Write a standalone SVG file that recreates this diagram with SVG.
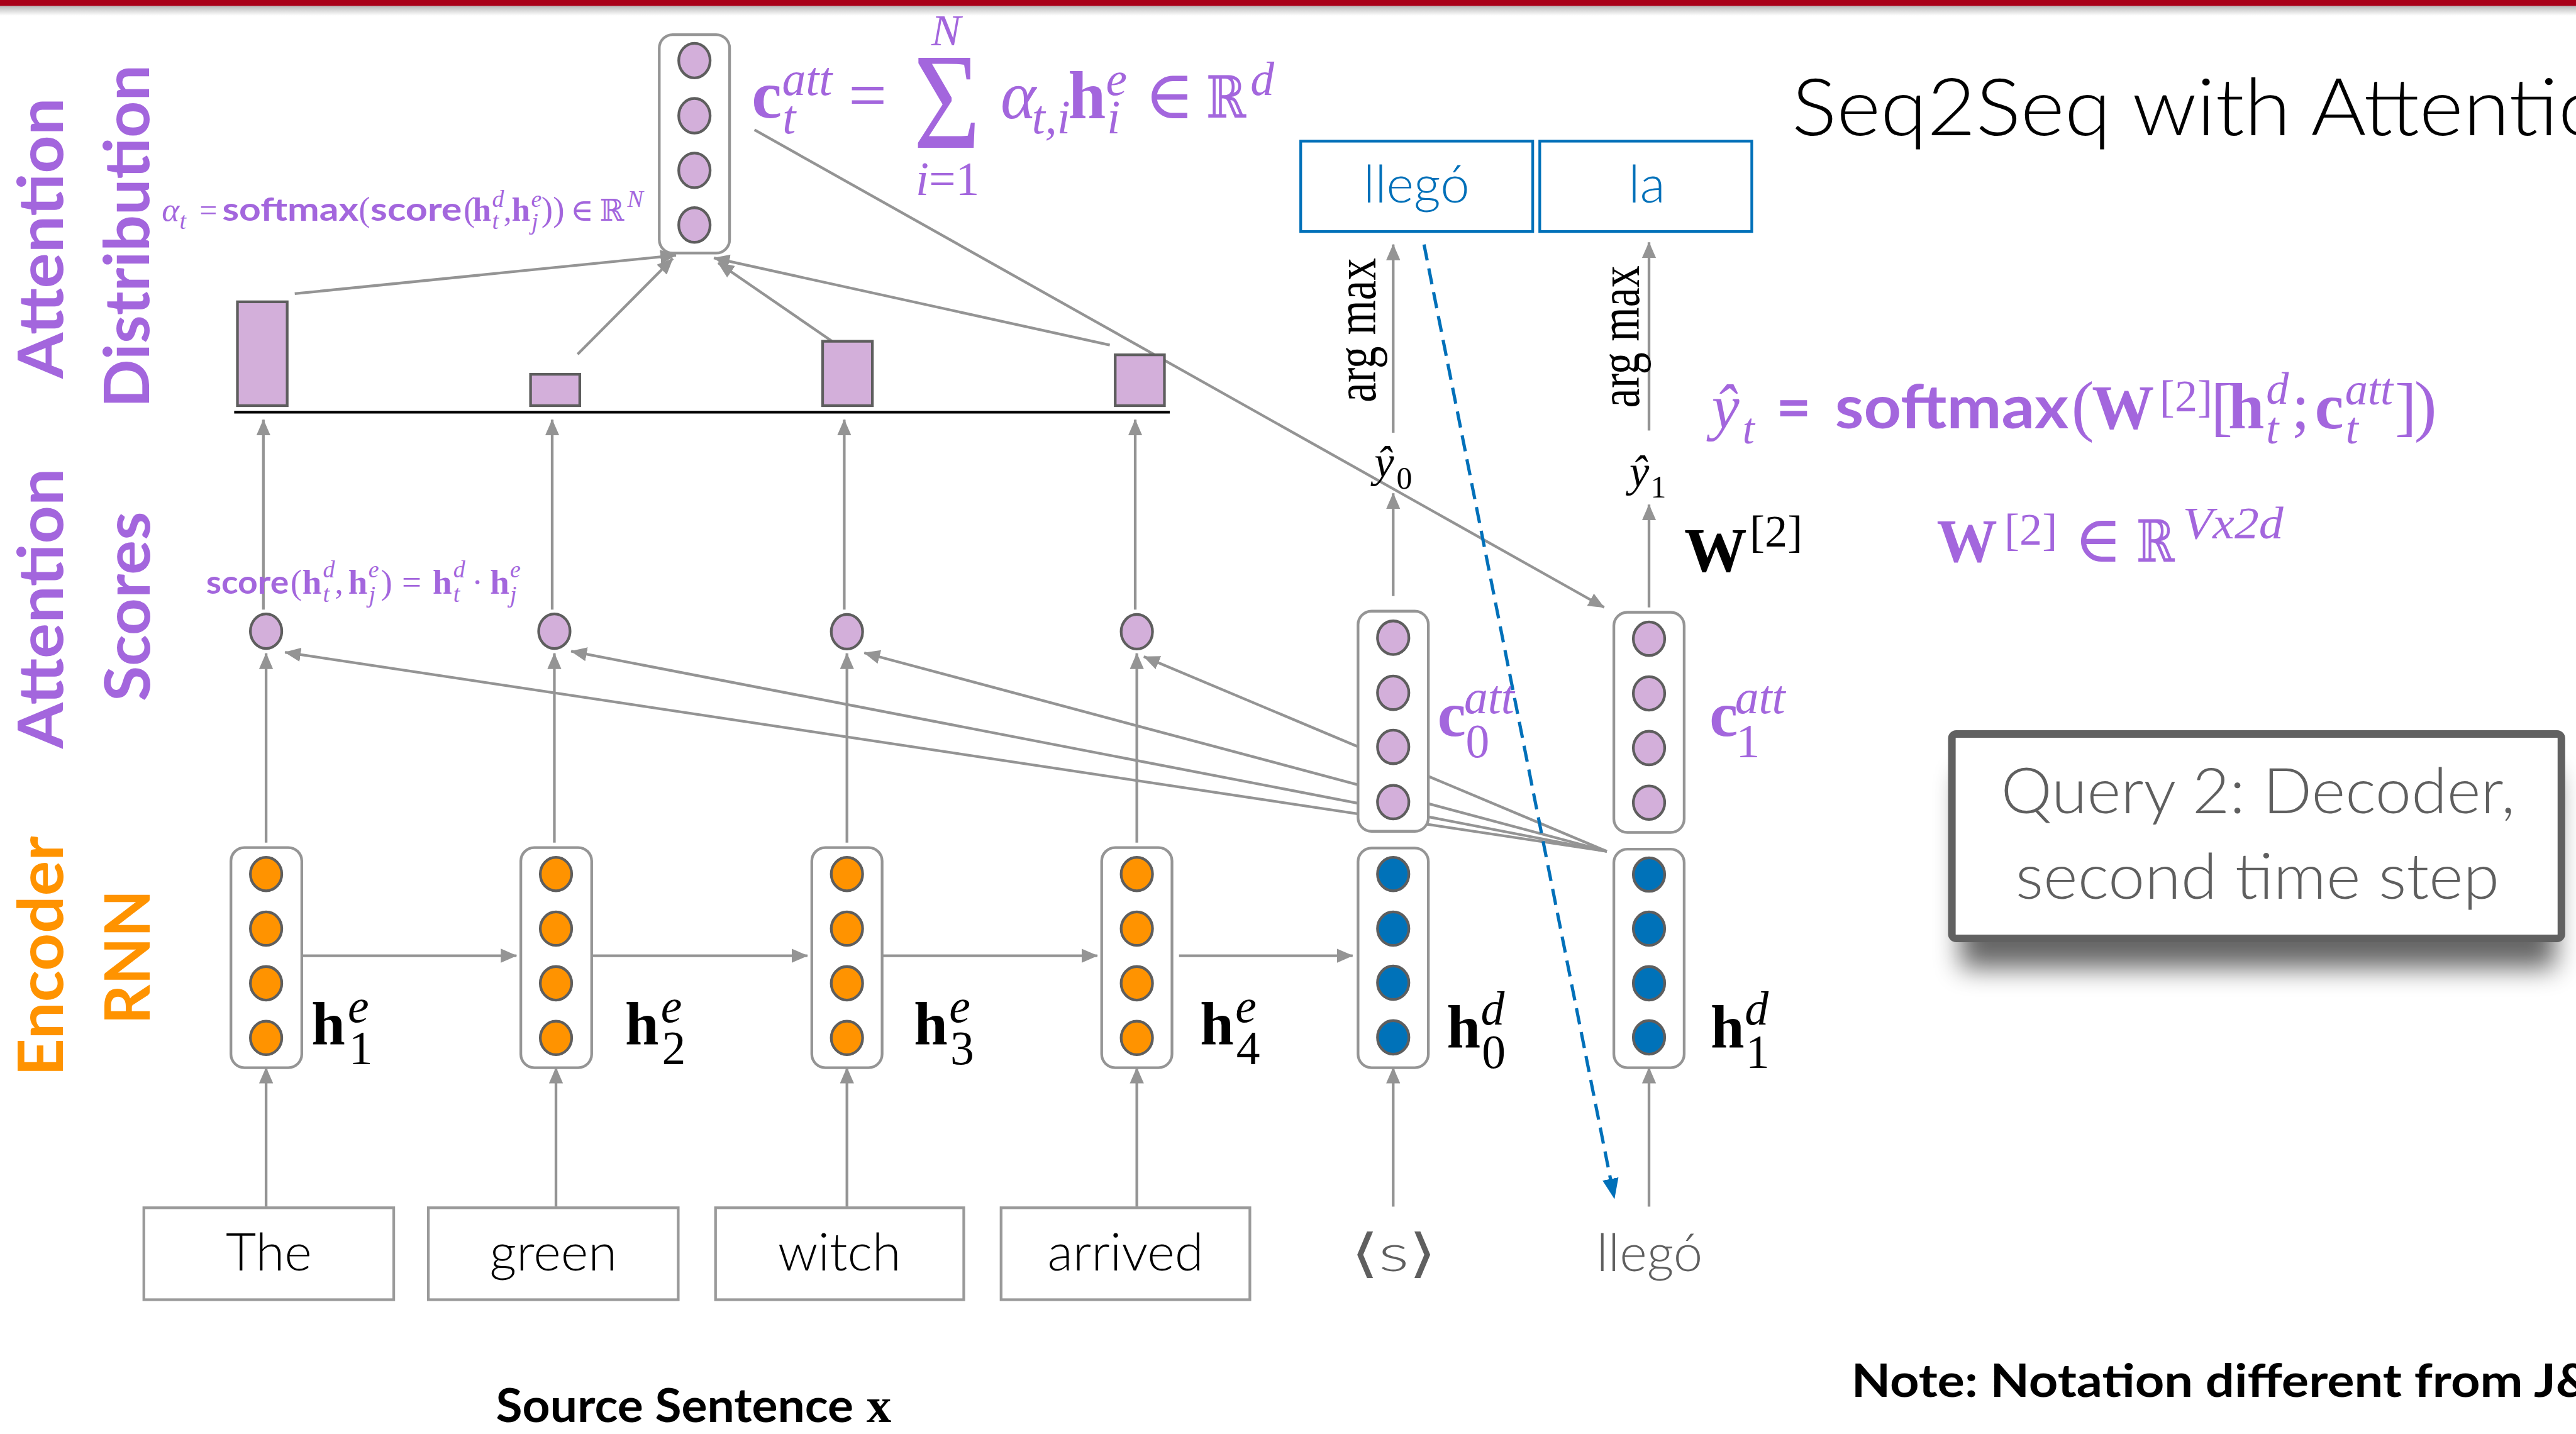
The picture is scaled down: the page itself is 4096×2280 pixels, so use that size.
<svg xmlns="http://www.w3.org/2000/svg" width="4096" height="2280" viewBox="0 0 4096 2280">
<defs>
<style>
.sans{font-family:Lato,"Noto Sans","DejaVu Sans",sans-serif}
.serif{font-family:"Liberation Serif","DejaVu Serif",serif}
.pur{fill:#A366DD}
.side{font-family:Lato,"Noto Sans","DejaVu Sans",sans-serif;font-weight:700;font-size:116px}
.vec{fill:#fff;stroke:#959595;stroke-width:5}
.wbox{fill:#fff;stroke:#9A9A9A;stroke-width:5}
.obox{fill:#fff;stroke:#0070B9;stroke-width:5}
.u-enc{fill:#FF9300;stroke:#5E5E5E;stroke-width:5}
.u-dec{fill:#0072B9;stroke:#5E5E5E;stroke-width:5}
.u-att{fill:#D3AFDA;stroke:#5E5E5E;stroke-width:5}
.ln{fill:none;stroke:#949494;stroke-width:5}
.ar{marker-end:url(#ah)}
.word{font-family:Lato,"Noto Sans","DejaVu Sans",sans-serif;font-weight:300;font-size:97px;text-anchor:middle}
.it{font-style:italic}
.b{font-weight:700}
</style>
<marker id="ah" markerUnits="userSpaceOnUse" markerWidth="30" markerHeight="26" refX="29" refY="13" orient="auto"><path d="M0,0L30,13L0,26z" fill="#949494"/></marker>
<marker id="ahb" markerUnits="userSpaceOnUse" markerWidth="38" markerHeight="30" refX="37" refY="15" orient="auto"><path d="M0,0L38,15L0,30z" fill="#0070B9"/></marker>
<filter id="soft" x="-20%" y="-30%" width="140%" height="180%"><feGaussianBlur stdDeviation="24"/></filter>
<linearGradient id="shade" x1="0" y1="0" x2="0" y2="1"><stop offset="0" stop-color="#000" stop-opacity="0.28"/><stop offset="1" stop-color="#000" stop-opacity="0"/></linearGradient>
</defs>
<rect width="4096" height="2280" fill="#fff"/>
<g transform="scale(0.859962)">

<!-- header rule -->
<g id="header">
<rect x="0" y="0" width="4763" height="11" fill="#A80018"/>
<rect x="0" y="11" width="4763" height="18" fill="url(#shade)"/>
</g>

<!-- row captions -->
<g id="row-labels">
<text class="side pur" transform="translate(116,700) rotate(-90)" textLength="519" lengthAdjust="spacingAndGlyphs">Attention</text>
<text class="side pur" transform="translate(276,754) rotate(-90)" textLength="634" lengthAdjust="spacingAndGlyphs">Distribution</text>
<text class="side pur" transform="translate(116,1384) rotate(-90)" textLength="518" lengthAdjust="spacingAndGlyphs">Attention</text>
<text class="side pur" transform="translate(277,1297) rotate(-90)" textLength="351" lengthAdjust="spacingAndGlyphs">Scores</text>
<text class="side" fill="#FF9300" transform="translate(116,1990) rotate(-90)" textLength="444" lengthAdjust="spacingAndGlyphs">Encoder</text>
<text class="side" fill="#FF9300" transform="translate(277,1894) rotate(-90)" textLength="249" lengthAdjust="spacingAndGlyphs">RNN</text>
</g>

<!-- connectors -->
<g id="connectors">
<!-- words to hidden states -->
<line class="ln ar" x1="492" y1="2231" x2="492" y2="1974"/>
<line class="ln ar" x1="1028" y1="2231" x2="1028" y2="1974"/>
<line class="ln ar" x1="1566" y1="2231" x2="1566" y2="1974"/>
<line class="ln ar" x1="2102" y1="2231" x2="2102" y2="1974"/>
<line class="ln ar" x1="2576" y1="2231" x2="2576" y2="1974"/>
<line class="ln ar" x1="3049" y1="2231" x2="3049" y2="1974"/>
<!-- recurrence -->
<line class="ln ar" x1="558" y1="1767" x2="955" y2="1767"/>
<line class="ln ar" x1="1094" y1="1767" x2="1493" y2="1767"/>
<line class="ln ar" x1="1631" y1="1767" x2="2029" y2="1767"/>
<line class="ln ar" x1="2180" y1="1767" x2="2501" y2="1767"/>
<!-- encoder states to scores -->
<line class="ln ar" x1="492" y1="1558" x2="492" y2="1208"/>
<line class="ln ar" x1="1025" y1="1558" x2="1025" y2="1208"/>
<line class="ln ar" x1="1566" y1="1558" x2="1566" y2="1208"/>
<line class="ln ar" x1="2102" y1="1558" x2="2102" y2="1208"/>
<!-- scores to distribution -->
<line class="ln ar" x1="487" y1="1127" x2="487" y2="776"/>
<line class="ln ar" x1="1021" y1="1127" x2="1021" y2="776"/>
<line class="ln ar" x1="1561" y1="1127" x2="1561" y2="776"/>
<line class="ln ar" x1="2099" y1="1127" x2="2099" y2="776"/>
<!-- query h1 to each score -->
<line class="ln ar" x1="2971" y1="1574" x2="527" y2="1206"/>
<line class="ln ar" x1="2971" y1="1574" x2="1056" y2="1204"/>
<line class="ln ar" x1="2971" y1="1574" x2="1598" y2="1207"/>
<line class="ln ar" x1="2971" y1="1574" x2="2115" y2="1214"/>
<!-- weights to context vector -->
<line class="ln ar" x1="545" y1="543" x2="1250" y2="472"/>
<line class="ln ar" x1="1068" y1="655" x2="1244" y2="478"/>
<line class="ln ar" x1="1540" y1="632" x2="1328" y2="486"/>
<line class="ln ar" x1="2052" y1="638" x2="1320" y2="477"/>
<!-- context vector to c1 -->
<line class="ln ar" x1="1395" y1="240" x2="2966" y2="1123"/>
<!-- outputs -->
<line class="ln ar" x1="2576" y1="1102" x2="2576" y2="912"/>
<line class="ln ar" x1="3049" y1="1123" x2="3049" y2="933"/>
<line class="ln ar" x1="2576" y1="800" x2="2576" y2="452"/>
<line class="ln ar" x1="3049" y1="796" x2="3049" y2="448"/>
<!-- feed previous output -->
<line x1="2633" y1="452" x2="2985" y2="2216" fill="none" stroke="#0070B9" stroke-width="6" stroke-dasharray="30 15" marker-end="url(#ahb)"/>
</g>

<!-- distribution baseline and bars -->
<g id="distribution">
<line x1="433" y1="762" x2="2163" y2="762" stroke="#000" stroke-width="5"/>
<rect id="bar-1" class="u-att" x="439" y="558" width="92" height="192"/>
<rect id="bar-2" class="u-att" x="981" y="692" width="91" height="58"/>
<rect id="bar-3" class="u-att" x="1521" y="631" width="92" height="119"/>
<rect id="bar-4" class="u-att" x="2062" y="656" width="91" height="94"/>
</g>

<!-- context vector c_t -->
<g id="ctx-t">
<rect class="vec" x="1219" y="64" width="130" height="404" rx="25"/>
<ellipse class="u-att" cx="1284" cy="112" rx="29" ry="32"/>
<ellipse class="u-att" cx="1284" cy="214" rx="29" ry="32"/>
<ellipse class="u-att" cx="1284" cy="315" rx="29" ry="32"/>
<ellipse class="u-att" cx="1284" cy="416" rx="29" ry="32"/>
</g>

<!-- score nodes -->
<g id="score-1"><ellipse class="u-att" cx="492" cy="1167" rx="29" ry="32"/></g>
<g id="score-2"><ellipse class="u-att" cx="1025" cy="1167" rx="29" ry="32"/></g>
<g id="score-3"><ellipse class="u-att" cx="1566" cy="1168" rx="29" ry="32"/></g>
<g id="score-4"><ellipse class="u-att" cx="2102" cy="1168" rx="29" ry="32"/></g>

<!-- encoder states -->
<g id="enc-1">
<rect class="vec" x="427" y="1567" width="131" height="407" rx="25"/>
<ellipse class="u-enc" cx="492" cy="1616" rx="29" ry="31"/><ellipse class="u-enc" cx="492" cy="1717" rx="29" ry="31"/><ellipse class="u-enc" cx="492" cy="1818" rx="29" ry="31"/><ellipse class="u-enc" cx="492" cy="1919" rx="29" ry="31"/>
</g>
<g id="enc-2">
<rect class="vec" x="963" y="1567" width="131" height="407" rx="25"/>
<ellipse class="u-enc" cx="1028" cy="1616" rx="29" ry="31"/><ellipse class="u-enc" cx="1028" cy="1717" rx="29" ry="31"/><ellipse class="u-enc" cx="1028" cy="1818" rx="29" ry="31"/><ellipse class="u-enc" cx="1028" cy="1919" rx="29" ry="31"/>
</g>
<g id="enc-3">
<rect class="vec" x="1501" y="1567" width="130" height="407" rx="25"/>
<ellipse class="u-enc" cx="1566" cy="1616" rx="29" ry="31"/><ellipse class="u-enc" cx="1566" cy="1717" rx="29" ry="31"/><ellipse class="u-enc" cx="1566" cy="1818" rx="29" ry="31"/><ellipse class="u-enc" cx="1566" cy="1919" rx="29" ry="31"/>
</g>
<g id="enc-4">
<rect class="vec" x="2037" y="1567" width="130" height="407" rx="25"/>
<ellipse class="u-enc" cx="2102" cy="1616" rx="29" ry="31"/><ellipse class="u-enc" cx="2102" cy="1717" rx="29" ry="31"/><ellipse class="u-enc" cx="2102" cy="1818" rx="29" ry="31"/><ellipse class="u-enc" cx="2102" cy="1919" rx="29" ry="31"/>
</g>

<!-- decoder states -->
<g id="dec-0">
<rect class="vec" x="2511" y="1568" width="130" height="406" rx="25"/>
<ellipse class="u-dec" cx="2576" cy="1616" rx="29" ry="31"/><ellipse class="u-dec" cx="2576" cy="1717" rx="29" ry="31"/><ellipse class="u-dec" cx="2576" cy="1817" rx="29" ry="31"/><ellipse class="u-dec" cx="2576" cy="1918" rx="29" ry="31"/>
</g>
<g id="dec-1">
<rect class="vec" x="2984" y="1570" width="130" height="404" rx="25"/>
<ellipse class="u-dec" cx="3049" cy="1617" rx="29" ry="31"/><ellipse class="u-dec" cx="3049" cy="1717" rx="29" ry="31"/><ellipse class="u-dec" cx="3049" cy="1818" rx="29" ry="31"/><ellipse class="u-dec" cx="3049" cy="1918" rx="29" ry="31"/>
</g>

<!-- attention context per step -->
<g id="ctx-0">
<rect class="vec" x="2511" y="1130" width="130" height="407" rx="25"/>
<ellipse class="u-att" cx="2576" cy="1179" rx="29" ry="31"/><ellipse class="u-att" cx="2576" cy="1281" rx="29" ry="31"/><ellipse class="u-att" cx="2576" cy="1381" rx="29" ry="31"/><ellipse class="u-att" cx="2576" cy="1483" rx="29" ry="31"/>
</g>
<g id="ctx-1">
<rect class="vec" x="2984" y="1132" width="130" height="407" rx="25"/>
<ellipse class="u-att" cx="3049" cy="1181" rx="29" ry="31"/><ellipse class="u-att" cx="3049" cy="1282" rx="29" ry="31"/><ellipse class="u-att" cx="3049" cy="1383" rx="29" ry="31"/><ellipse class="u-att" cx="3049" cy="1484" rx="29" ry="31"/>
</g>

<!-- state labels -->
<g id="state-labels" class="serif" fill="#000">
<text font-size="112"><tspan x="576" y="1931" class="b">h</tspan><tspan x="643" y="1890" font-size="88" class="it">e</tspan><tspan x="645" y="1967" font-size="88">1</tspan></text>
<text font-size="112"><tspan x="1156" y="1931" class="b">h</tspan><tspan x="1222" y="1890" font-size="88" class="it">e</tspan><tspan x="1224" y="1967" font-size="88">2</tspan></text>
<text font-size="112"><tspan x="1690" y="1931" class="b">h</tspan><tspan x="1755" y="1890" font-size="88" class="it">e</tspan><tspan x="1757" y="1967" font-size="88">3</tspan></text>
<text font-size="112"><tspan x="2219" y="1931" class="b">h</tspan><tspan x="2284" y="1890" font-size="88" class="it">e</tspan><tspan x="2286" y="1967" font-size="88">4</tspan></text>
<text font-size="112"><tspan x="2675" y="1937" class="b">h</tspan><tspan x="2738" y="1894" font-size="88" class="it">d</tspan><tspan x="2740" y="1975" font-size="88">0</tspan></text>
<text font-size="112"><tspan x="3163" y="1937" class="b">h</tspan><tspan x="3226" y="1894" font-size="88" class="it">d</tspan><tspan x="3228" y="1975" font-size="88">1</tspan></text>
<text class="pur" font-size="118"><tspan x="2658" y="1361" class="b">c</tspan><tspan x="2707" y="1319" font-size="88" class="it">att</tspan><tspan x="2710" y="1400" font-size="88">0</tspan></text>
<text class="pur" font-size="118"><tspan x="3161" y="1361" class="b">c</tspan><tspan x="3208" y="1319" font-size="88" class="it">att</tspan><tspan x="3210" y="1400" font-size="88">1</tspan></text>
<text font-size="82"><tspan x="2541" y="882" class="it">ŷ</tspan><tspan x="2582" y="903" font-size="58">0</tspan></text>
<text font-size="82"><tspan x="3013" y="899" class="it">ŷ</tspan><tspan x="3052" y="920" font-size="58">1</tspan></text>
<text font-size="116"><tspan x="3114" y="1056" class="b">W</tspan><tspan x="3235" y="1010" font-size="84">[2]</tspan></text>
<text font-size="105" transform="translate(2543,744) rotate(-90)" textLength="267" lengthAdjust="spacingAndGlyphs">arg max</text>
<text font-size="105" transform="translate(3030,754) rotate(-90)" textLength="263" lengthAdjust="spacingAndGlyphs">arg max</text>
</g>

<!-- formula: context vector -->
<g id="eq-context" class="serif pur">
<text font-size="125"><tspan x="1390" y="217" class="b">c</tspan><tspan x="1446" y="176" font-size="88" class="it">att</tspan><tspan x="1447" y="247" font-size="88" class="it">t</tspan><tspan x="1569" y="217">=</tspan></text>
<text x="1689" y="273" font-size="255" textLength="124" lengthAdjust="spacingAndGlyphs">Σ</text>
<text x="1722" y="84" font-size="82" class="it">N</text>
<text font-size="88"><tspan x="1693" y="360" class="it">i</tspan><tspan>=1</tspan></text>
<text font-size="125"><tspan x="1850" y="219" class="it">α</tspan><tspan x="1908" y="247" font-size="88" class="it">t,i</tspan><tspan x="1975" y="219" class="b">h</tspan><tspan x="2045" y="176" font-size="88" class="it">e</tspan><tspan x="2047" y="247" font-size="88" class="it">i</tspan><tspan x="2116" y="219">∈</tspan></text>
<text x="2230" y="217" font-size="108" textLength="74" lengthAdjust="spacingAndGlyphs">ℝ</text>
<text x="2312" y="176" font-size="88" class="it">d</text>
</g>

<!-- formula: attention weights -->
<g id="eq-alpha" class="pur">
<text class="serif" font-size="62"><tspan x="299" y="408" class="it">α</tspan><tspan x="332" y="423" font-size="44" class="it">t</tspan><tspan x="369" y="408" font-size="58">=</tspan></text>
<text class="sans b" x="411" y="408" font-size="60" textLength="252" lengthAdjust="spacingAndGlyphs">softmax</text>
<text class="serif" x="663" y="408" font-size="64">(</text>
<text class="sans b" x="685" y="408" font-size="60" textLength="169" lengthAdjust="spacingAndGlyphs">score</text>
<text class="serif" font-size="62"><tspan x="857" y="408" font-size="64">(</tspan><tspan x="874" y="408" class="b">h</tspan><tspan x="910" y="383" font-size="44" class="it">d</tspan><tspan x="910" y="423" font-size="44" class="it">t</tspan><tspan x="931" y="408">,</tspan><tspan x="946" y="408" class="b">h</tspan><tspan x="982" y="383" font-size="44" class="it">e</tspan><tspan x="983" y="425" font-size="44" class="it">j</tspan><tspan x="1001" y="408" font-size="64">))</tspan><tspan x="1055" y="408" font-size="58">∈</tspan></text>
<text class="serif" x="1109" y="408" font-size="56" textLength="45" lengthAdjust="spacingAndGlyphs">ℝ</text>
<text class="serif it" x="1160" y="382" font-size="44">N</text>
</g>

<!-- formula: dot-product score -->
<g id="eq-score" class="pur">
<text class="sans b" x="381" y="1098" font-size="60" textLength="153" lengthAdjust="spacingAndGlyphs">score</text>
<text class="serif" font-size="64"><tspan x="537" y="1098">(</tspan><tspan x="559" y="1098" class="b">h</tspan><tspan x="597" y="1068" font-size="44" class="it">d</tspan><tspan x="597" y="1113" font-size="44" class="it">t</tspan><tspan x="619" y="1098">,</tspan><tspan x="644" y="1098" class="b">h</tspan><tspan x="681" y="1068" font-size="44" class="it">e</tspan><tspan x="682" y="1114" font-size="44" class="it">j</tspan><tspan x="704" y="1098">)</tspan><tspan x="743" y="1098">=</tspan><tspan x="800" y="1098" class="b">h</tspan><tspan x="838" y="1068" font-size="44" class="it">d</tspan><tspan x="838" y="1113" font-size="44" class="it">t</tspan><tspan x="872" y="1098">·</tspan><tspan x="906" y="1098" class="b">h</tspan><tspan x="943" y="1068" font-size="44" class="it">e</tspan><tspan x="943" y="1114" font-size="44" class="it">j</tspan></text>
</g>

<!-- formula: output distribution -->
<g id="eq-output" class="pur">
<text class="serif" font-size="115"><tspan x="3165" y="792" class="it">ŷ</tspan><tspan x="3222" y="820" font-size="80" class="it">t</tspan></text>
<text class="sans b" x="3284" y="792" font-size="112">=</text>
<text class="sans b" x="3393" y="792" font-size="112" textLength="432" lengthAdjust="spacingAndGlyphs">softmax</text>
<text class="serif" font-size="120"><tspan x="3830" y="792" font-size="125">(</tspan><tspan x="3868" y="792" class="b" font-size="115">W</tspan><tspan x="3993" y="760" font-size="84">[2]</tspan><tspan x="4088" y="792">[</tspan><tspan x="4120" y="792" class="b">h</tspan><tspan x="4190" y="746" font-size="84" class="it">d</tspan><tspan x="4190" y="820" font-size="84" class="it">t</tspan><tspan x="4237" y="792">;</tspan><tspan x="4280" y="792" class="b">c</tspan><tspan x="4336" y="748" font-size="84" class="it">att</tspan><tspan x="4337" y="820" font-size="84" class="it">t</tspan><tspan x="4428" y="792">]</tspan><tspan x="4464" y="792" font-size="125">)</tspan></text>
<text class="serif" font-size="120"><tspan x="3581" y="1038" class="b" font-size="112">W</tspan><tspan x="3706" y="1007" font-size="84">[2]</tspan><tspan x="3835" y="1038">∈</tspan></text>
<text class="serif" x="3950" y="1038" font-size="108" textLength="71" lengthAdjust="spacingAndGlyphs">ℝ</text>
<text class="serif it" x="4036" y="995" font-size="84" textLength="186" lengthAdjust="spacingAndGlyphs">Vx2d</text>
</g>

<!-- output words -->
<g id="out-llego">
<rect class="obox" x="2405" y="261" width="429" height="167"/>
<text class="word" x="2619" y="375" fill="#0070B9" font-size="100">llegó</text>
</g>
<g id="out-la">
<rect class="obox" x="2847" y="261" width="392" height="167"/>
<text class="word" x="3045" y="375" fill="#0070B9" font-size="100">la</text>
</g>

<!-- source words -->
<g id="word-the"><rect class="wbox" x="266" y="2233" width="462" height="170"/><text class="word" x="497" y="2349" fill="#000">The</text></g>
<g id="word-green"><rect class="wbox" x="792" y="2233" width="462" height="170"/><text class="word" x="1023" y="2349" fill="#000">green</text></g>
<g id="word-witch"><rect class="wbox" x="1323" y="2233" width="459" height="170"/><text class="word" x="1552" y="2349" fill="#000">witch</text></g>
<g id="word-arrived"><rect class="wbox" x="1851" y="2233" width="460" height="170"/><text class="word" x="2081" y="2349" fill="#000">arrived</text></g>

<!-- decoder inputs -->
<g id="in-start"><text class="word" x="2577" y="2350" fill="#5F5F5F" font-size="100" textLength="158" lengthAdjust="spacingAndGlyphs">⟨s⟩</text></g>
<g id="in-llego"><text class="word" x="3050" y="2350" fill="#5F5F5F" font-size="100">llegó</text></g>

<!-- captions -->
<g id="caption-source">
<text class="sans" x="917" y="2629" font-size="86" font-weight="700" textLength="661" lengthAdjust="spacingAndGlyphs">Source Sentence</text>
<text class="serif b" x="1602" y="2629" font-size="92">x</text>
</g>
<g id="title">
<text class="sans" x="3313" y="250" font-size="148" font-weight="300" fill="#000" textLength="1590" lengthAdjust="spacingAndGlyphs">Seq2Seq with Attention</text>
</g>
<g id="note">
<text class="sans" x="3423" y="2583" font-size="84" font-weight="700" fill="#000" textLength="1460" lengthAdjust="spacingAndGlyphs">Note: Notation different from J&amp;M</text>
</g>

<!-- callout -->
<g id="query-note">
<rect x="3625" y="1430" width="1100" height="360" fill="#000" opacity="0.6" filter="url(#soft)"/>
<rect x="3609" y="1357" width="1127" height="378" rx="8" fill="#fff" stroke="#616161" stroke-width="14"/>
<text class="sans" x="4175" y="1503" font-size="118" font-weight="300" fill="#5F5F5F" text-anchor="middle" textLength="951" lengthAdjust="spacingAndGlyphs">Query 2: Decoder,</text>
<text class="sans" x="4174" y="1662" font-size="118" font-weight="300" fill="#5F5F5F" text-anchor="middle" textLength="895" lengthAdjust="spacingAndGlyphs">second time step</text>
</g>

</g>
</svg>
